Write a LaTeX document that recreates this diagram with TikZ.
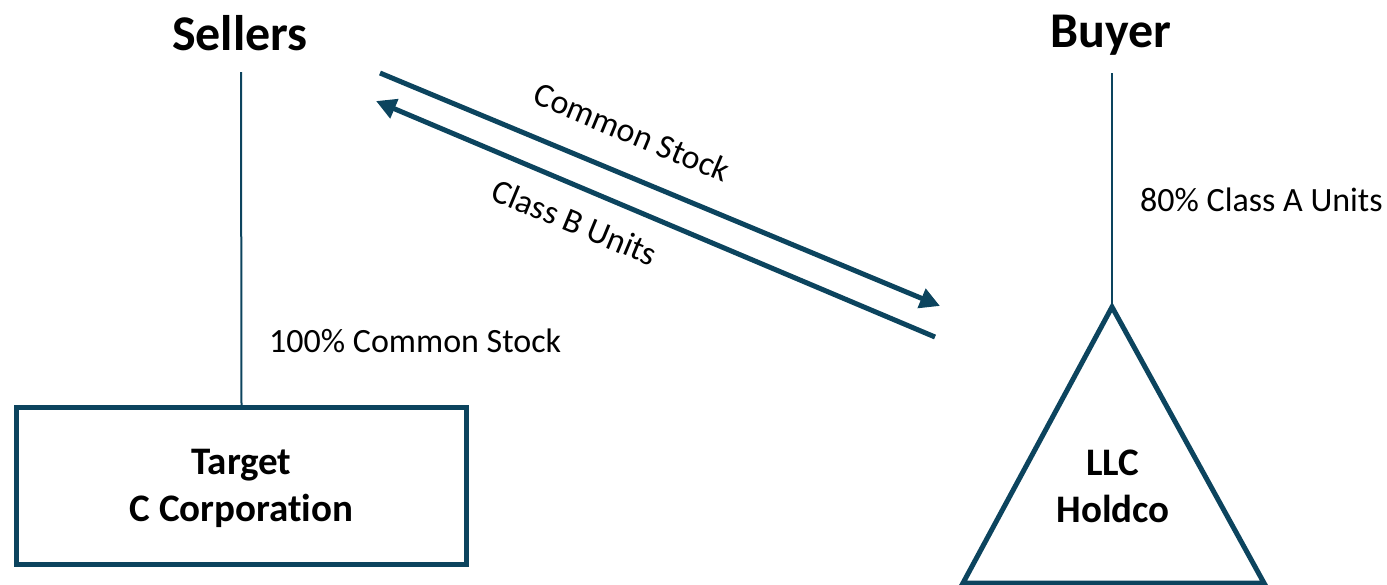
\documentclass[tikz,border=0pt]{standalone}
\usepackage{fontspec}
\setmainfont[Ligatures={NoCommon}]{Carlito}
\usetikzlibrary{arrows.meta}
\definecolor{teal1}{RGB}{12,68,94}
\begin{document}
\begin{tikzpicture}[x=1pt,y=-1pt,
  party/.style={font=\bfseries\fontsize{50}{60}\selectfont, inner sep=0pt},
  lbl/.style={font=\fontsize{34}{40}\selectfont, inner sep=0pt},
  ent/.style={font=\bfseries\fontsize{39}{47}\selectfont, align=center, inner sep=0pt},
  thinln/.style={draw=teal1, line width=2pt},
  thickln/.style={draw=teal1, line width=5pt},
  flow/.style={thickln, -{Triangle[length=20pt,width=20pt]}}]
\useasboundingbox (0,0) rectangle (1387,584);
\node[party] (sellers) at (240,33) {Sellers};
\node[party] (buyer) at (1111,35) {Buyer};
\node[thickln, line width=5.5pt, rectangle, minimum width=450pt, minimum height=157pt, inner sep=0pt] (target) at (241.5,486) {};
\node[ent] (targettxt) at (241.5,488) {Target\\C Corporation};
\coordinate (sTop) at (241,72);
\coordinate (bTop) at (1112,73);
\coordinate (apex) at (1112,307);
\coordinate (bl) at (963,583);
\coordinate (br) at (1264,583);
\draw[thickln, line join=miter] (apex) -- (br) -- (bl) -- cycle;
\node[ent] (holdco) at (1113,486) {LLC\\Holdco};
\draw[thinln] (sTop) -- (target.north);
\draw[thinln] (bTop) -- (apex);
\coordinate (a1s) at (380,73);
\coordinate (a1e) at (940,306);
\coordinate (a2s) at (935,337);
\coordinate (a2e) at (376,101);
\draw[flow] (a1s) -- (a1e);
\draw[flow] (a2s) -- (a2e);
\node[lbl, rotate=-22.6] (cs) at (632,132) {Common Stock};
\node[lbl, rotate=-22.6] (cb) at (575,222) {Class B Units};
\node[lbl, anchor=west] (pct100) at (269,341) {100\% Common Stock};
\node[lbl, anchor=west] (pct80) at (1140,200) {80\% Class A Units};
\end{tikzpicture}
\end{document}
